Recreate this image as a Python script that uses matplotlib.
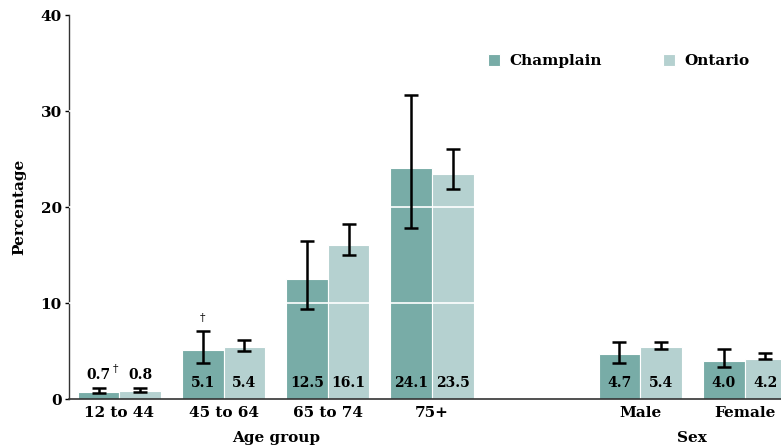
import numpy as np
import matplotlib
matplotlib.use("Agg")
import matplotlib.pyplot as plt
from matplotlib.transforms import blended_transform_factory

plt.rcParams['font.family'] = ['DejaVu Serif']
plt.rcParams['font.weight'] = 'bold'

# groups: four age groups, a gap, then sex
categories = ['12 to 44', '45 to 64', '65 to 74', '75+', 'Male', 'Female']
positions = [0, 1, 2, 3, 5, 6]

champlain = [0.7, 5.1, 12.5, 24.1, 4.7, 4.0]
champlain_lo = [0.6, 3.8, 9.4, 17.8, 3.8, 3.4]
champlain_hi = [1.2, 7.1, 16.5, 31.7, 6.0, 5.2]
champlain_flag = ['†', '†', '', '', '', '']

ontario = [0.8, 5.4, 16.1, 23.5, 5.4, 4.2]
ontario_lo = [0.7, 5.0, 15.0, 21.9, 5.2, 4.2]
ontario_hi = [1.2, 6.2, 18.2, 26.1, 6.0, 4.8]

c_champ = '#78aca7'
c_ont = '#b5d1d0'

fig = plt.figure(figsize=(7.81, 4.47), dpi=100)
ax = fig.add_axes([0.088, 0.107, 0.912, 0.859])

x = np.array(positions, dtype=float)
w = 0.4
xc = x - w / 2
xo = x + w / 2

ax.bar(xc, champlain, width=w, color=c_champ, edgecolor='white', linewidth=0.8, zorder=2, label='Champlain')
ax.bar(xo, ontario, width=w, color=c_ont, edgecolor='white', linewidth=0.8, zorder=2, label='Ontario')

# white grid lines that show only across the bars
for gy in [10, 20, 30]:
    ax.axhline(gy, color='white', lw=1.2, zorder=3)

def draw_err(xs, vals, lo, hi):
    vals = np.array(vals)
    yerr = [vals - np.array(lo), np.array(hi) - vals]
    ax.errorbar(xs, vals, yerr=yerr, fmt='none', ecolor='black',
                elinewidth=1.8, capsize=5, capthick=1.8, zorder=4)

draw_err(xc, champlain, champlain_lo, champlain_hi)
draw_err(xo, ontario, ontario_lo, ontario_hi)

# value labels: inside the bar, or above the error bar when the bar is short
for xs, vals, hi in [(xc, champlain, champlain_hi), (xo, ontario, ontario_hi)]:
    for xi, v, h in zip(xs, vals, hi):
        if v < 3:
            ax.text(xi, h + 0.6, f'{v:.1f}', ha='center', va='bottom', fontsize=10, zorder=5)
        else:
            ax.text(xi, 1.0, f'{v:.1f}', ha='center', va='bottom', fontsize=10, zorder=5)

for xi, v, h, f in zip(xc, champlain, champlain_hi, champlain_flag):
    if not f:
        continue
    if v < 3:
        ax.text(xi + 0.14, h + 1.4, f, ha='left', va='bottom', fontsize=8, fontweight='normal')
    else:
        ax.text(xi, h + 0.8, f, ha='center', va='bottom', fontsize=8, fontweight='normal')

ax.set_xlim(-0.486, 6.35)
ax.set_ylim(0, 40)
ax.set_yticks([0, 10, 20, 30, 40])
ax.tick_params(axis='y', labelsize=11, length=3, width=1, pad=2)
ax.set_xticks(positions)
ax.set_xticklabels(categories)
ax.tick_params(axis='x', length=0, labelsize=11, pad=5)
ax.set_ylabel('Percentage', fontsize=11, fontweight='bold', labelpad=10)

for s in ['top', 'right']:
    ax.spines[s].set_visible(False)
ax.spines['left'].set_color('#333333')
ax.spines['bottom'].set_color('#333333')
ax.spines['left'].set_linewidth(1)
ax.spines['bottom'].set_linewidth(1.2)

trans = blended_transform_factory(ax.transData, fig.transFigure)
ax.text(np.mean(positions[:4]), 0.004, 'Age group', transform=trans, ha='center', va='bottom', fontsize=11)
ax.text(np.mean(positions[4:]), 0.004, 'Sex', transform=trans, ha='center', va='bottom', fontsize=11)

ax.legend(loc='upper right', bbox_to_anchor=(0.975, 0.935), ncol=2, frameon=False,
          fontsize=11, handlelength=0.8, handleheight=0.8, columnspacing=4.0, handletextpad=0.6)

fig.savefig('out.png', dpi=100)
